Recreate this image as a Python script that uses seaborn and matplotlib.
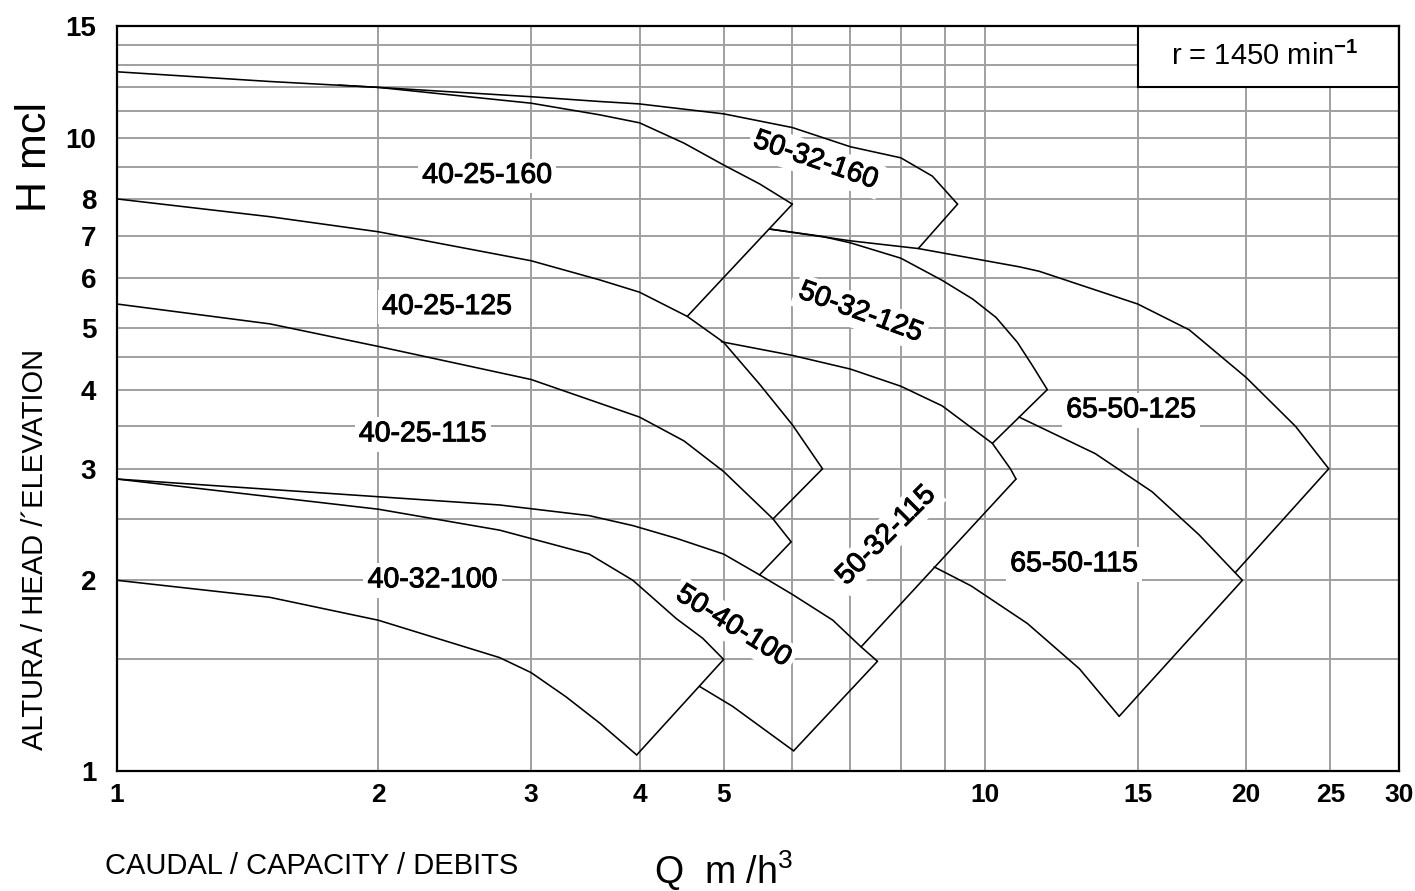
import matplotlib
matplotlib.use("Agg")
import matplotlib.pyplot as plt
from matplotlib.patches import Rectangle
from matplotlib.ticker import NullLocator
import matplotlib.patheffects as pe
import seaborn as sns
import pandas as pd

# ---------------- data: capacity Q (m3/h) and head H (m) ----------------
q_40_25_160 = [1.0, 1.5, 2.0, 3.0, 3.6, 4.0, 4.5, 5.0, 5.5, 6.0]
h_40_25_160 = [12.7, 12.26, 12.0, 11.33, 10.86, 10.55, 9.8, 9.05, 8.45, 7.85]

q_50_32_160 = [1.8, 2.0, 3.0, 3.6, 4.0, 5.0, 6.0, 7.0, 8.0, 8.7, 9.3]
h_50_32_160 = [12.1, 12.0, 11.6, 11.4, 11.3, 10.9, 10.37, 9.67, 9.29, 8.69, 7.85]

q_40_25_125 = [1.0, 1.5, 2.0, 3.0, 3.6, 4.0, 4.54, 5.0, 5.5, 6.0, 6.5]
h_40_25_125 = [8.0, 7.5, 7.1, 6.39, 5.96, 5.7, 5.22, 4.75, 4.08, 3.52, 3.0]

q_50_32_125 = [5.65, 6.5, 7.0, 8.0, 8.93, 9.68, 10.3, 10.9, 11.35, 11.8]
h_50_32_125 = [7.17, 6.98, 6.82, 6.45, 5.95, 5.56, 5.2, 4.75, 4.36, 4.0]

q_65_50_125 = [5.65, 7.0, 8.38, 10.96, 11.55, 15.0, 17.2, 20.0, 22.8, 24.9]
h_65_50_125 = [7.17, 6.87, 6.68, 6.25, 6.15, 5.46, 4.97, 4.18, 3.5, 3.0]

q_40_25_115 = [1.0, 1.5, 2.0, 3.0, 4.0, 4.5, 5.0, 5.7, 5.98]
h_40_25_115 = [5.46, 5.08, 4.68, 4.15, 3.62, 3.32, 2.97, 2.5, 2.3]

q_50_32_115 = [4.97, 6.0, 7.0, 8.0, 8.93, 10.2, 10.7, 10.86]
h_50_32_115 = [4.76, 4.53, 4.31, 4.05, 3.77, 3.29, 3.0, 2.89]

q_65_50_115_top = [10.95, 13.4, 15.58, 17.65, 19.8]
h_65_50_115_top = [3.62, 3.17, 2.76, 2.36, 2.0]

q_65_50_115_bot = [8.74, 9.64, 11.19, 12.85, 14.28]
h_65_50_115_bot = [2.1, 1.96, 1.71, 1.45, 1.22]

q_50_40_100_top = [1.0, 2.0, 2.76, 3.5, 3.93, 4.41, 5.0, 5.5, 6.0, 6.68, 7.2, 7.52]
h_50_40_100_top = [2.89, 2.71, 2.63, 2.53, 2.44, 2.33, 2.2, 2.04, 1.9, 1.73, 1.57, 1.49]

q_50_40_100_bot = [4.69, 5.12, 6.02]
h_50_40_100_bot = [1.36, 1.265, 1.076]

q_40_32_100_top = [1.0, 2.0, 2.76, 3.5, 3.93, 4.41, 4.73, 5.0]
h_40_32_100_top = [2.89, 2.59, 2.4, 2.2, 2.0, 1.74, 1.62, 1.5]

q_40_32_100_bot = [1.0, 1.5, 2.0, 2.76, 3.0, 3.29, 3.6, 3.97]
h_40_32_100_bot = [2.0, 1.88, 1.73, 1.51, 1.43, 1.31, 1.19, 1.06]

# closing lines (tip of curve -> end on lower curve)
q_close_40_25_160 = [6.0, 4.54];   h_close_40_25_160 = [7.85, 5.22]
q_close_50_32_160 = [9.3, 8.38];   h_close_50_32_160 = [7.85, 6.68]
q_close_40_25_125 = [6.5, 5.7];    h_close_40_25_125 = [3.0, 2.5]
q_close_50_32_125 = [11.8, 10.2];  h_close_50_32_125 = [4.0, 3.29]
q_close_65_50_125 = [24.9, 19.45]; h_close_65_50_125 = [3.0, 2.06]
q_close_40_25_115 = [5.98, 5.5];   h_close_40_25_115 = [2.3, 2.04]
q_close_50_32_115 = [10.86, 7.2];  h_close_50_32_115 = [2.89, 1.57]
q_close_65_50_115 = [19.8, 14.28]; h_close_65_50_115 = [2.0, 1.22]
q_close_40_32_100 = [5.0, 3.97];   h_close_40_32_100 = [1.5, 1.06]
q_close_50_40_100 = [7.52, 6.02];  h_close_50_40_100 = [1.49, 1.076]

segments = {
    "40-25-160": (q_40_25_160, h_40_25_160),
    "50-32-160": (q_50_32_160, h_50_32_160),
    "40-25-125": (q_40_25_125, h_40_25_125),
    "50-32-125": (q_50_32_125, h_50_32_125),
    "65-50-125": (q_65_50_125, h_65_50_125),
    "40-25-115": (q_40_25_115, h_40_25_115),
    "50-32-115": (q_50_32_115, h_50_32_115),
    "65-50-115 top": (q_65_50_115_top, h_65_50_115_top),
    "65-50-115 bot": (q_65_50_115_bot, h_65_50_115_bot),
    "50-40-100 top": (q_50_40_100_top, h_50_40_100_top),
    "50-40-100 bot": (q_50_40_100_bot, h_50_40_100_bot),
    "40-32-100 top": (q_40_32_100_top, h_40_32_100_top),
    "40-32-100 bot": (q_40_32_100_bot, h_40_32_100_bot),
    "c 40-25-160": (q_close_40_25_160, h_close_40_25_160),
    "c 50-32-160": (q_close_50_32_160, h_close_50_32_160),
    "c 40-25-125": (q_close_40_25_125, h_close_40_25_125),
    "c 50-32-125": (q_close_50_32_125, h_close_50_32_125),
    "c 65-50-125": (q_close_65_50_125, h_close_65_50_125),
    "c 40-25-115": (q_close_40_25_115, h_close_40_25_115),
    "c 50-32-115": (q_close_50_32_115, h_close_50_32_115),
    "c 65-50-115": (q_close_65_50_115, h_close_65_50_115),
    "c 40-32-100": (q_close_40_32_100, h_close_40_32_100),
    "c 50-40-100": (q_close_50_40_100, h_close_50_40_100),
}

x_ticks = [1, 2, 3, 4, 5, 10, 15, 20, 25, 30]
x_tick_labels = ["1", "2", "3", "4", "5", "10", "15", "20", "25", "30"]
y_ticks = [1, 2, 3, 4, 5, 6, 7, 8, 10, 15]
y_tick_labels = ["1", "2", "3", "4", "5", "6", "7", "8", "10", "15"]
x_grid = [2, 3, 4, 5, 6, 7, 8, 9, 10, 15, 20, 25]
y_grid = [1.5, 2, 2.5, 3, 3.5, 4, 4.5, 5, 6, 7, 8, 9, 10, 11, 12, 13, 14]

# label text, position (Q, H), rotation
labels = [
    ("40-25-160", 2.67, 8.7, 0),
    ("40-25-125", 2.40, 5.4, 0),
    ("40-25-115", 2.25, 3.40, 0),
    ("40-32-100", 2.31, 2.0, 0),
    ("50-32-160", 6.38, 9.19, -19),
    ("50-32-125", 7.19, 5.29, -20),
    ("50-40-100", 5.13, 1.69, -32),
    ("50-32-115", 7.70, 2.35, 45),
    ("65-50-125", 14.74, 3.71, 0),
    ("65-50-115", 12.67, 2.12, 0),
]

# ---------------- style ----------------
sns.set_style("white")
plt.rcParams['font.family'] = ['Liberation Sans', 'DejaVu Sans']
plt.rcParams['mathtext.fontset'] = 'custom'
plt.rcParams['mathtext.rm'] = 'Liberation Sans'
plt.rcParams['mathtext.it'] = 'Liberation Sans'
plt.rcParams['mathtext.bf'] = 'Liberation Sans:bold'
plt.rcParams.update({'text.color': 'black', 'xtick.color': 'black',
                     'ytick.color': 'black', 'axes.labelcolor': 'black'})

W, H = 1415, 891
fig = plt.figure(figsize=(W / 100, H / 100), dpi=100)
ax = fig.add_axes([117 / W, 1 - 771 / H, (1399 - 117) / W, (771 - 26) / H])
ax.set_xscale('log')
ax.set_yscale('log')

grid_color = '#a0a0a0'
for v in x_grid:
    ax.axvline(v, color=grid_color, lw=1.4, zorder=1)
for v in y_grid:
    ax.axhline(v, color=grid_color, lw=1.4, zorder=1)

rows = []
for name, (qs, hs) in segments.items():
    for i, (a, b) in enumerate(zip(qs, hs)):
        rows.append((name, i, a, b))
df = pd.DataFrame(rows, columns=['seg', 'order', 'q', 'h'])
sns.lineplot(data=df, x='q', y='h', units='seg', estimator=None, sort=False,
             color='black', lw=1.15, ax=ax, legend=False, zorder=3)

for txt, qx, hy, rot in labels:
    t = ax.text(qx, hy, txt, fontsize=20.5, rotation=rot, ha='center', va='center',
                rotation_mode='anchor', zorder=2.5, color='black',
                bbox=dict(facecolor='white', edgecolor='none', pad=3))
    t.set_path_effects([pe.withStroke(linewidth=0.7, foreground='black')])

# speed box
ax.add_patch(Rectangle((15, 12), 15, 3, facecolor='white', edgecolor='black',
                       lw=1.5, zorder=4))
ax.text(21.0, 13.45, r"r = 1450 min$^{\mathbf{-1}}$", fontsize=21, ha='center',
        va='center', zorder=5, color='black')

ax.set_xlim(1, 30)
ax.set_ylim(1, 15)
ax.xaxis.set_minor_locator(NullLocator())
ax.yaxis.set_minor_locator(NullLocator())
ax.set_xticks(x_ticks)
ax.set_xticklabels(x_tick_labels, fontsize=19, fontweight='bold')
ax.set_yticks(y_ticks)
ax.set_yticklabels(y_tick_labels, fontsize=20, fontweight='bold')
ax.tick_params(axis='x', length=0, pad=9, colors='black')
ax.tick_params(axis='y', length=0, pad=15, colors='black')
ax.set_xlabel("")
ax.set_ylabel("")
for s in ax.spines.values():
    s.set_color('black')
    s.set_linewidth(1.6)
    s.set_zorder(6)

fig.text(35 / W, 1 - 157 / H, "H mcl", rotation=90, fontsize=31,
         ha='center', va='center', color='black')
fig.text(35 / W, 1 - 549 / H, "ALTURA / HEAD /´ELEVATION", rotation=90,
         fontsize=21, ha='center', va='center', color='black')
fig.text(105 / W, 1 - 866 / H, "CAUDAL / CAPACITY / DEBITS", fontsize=21,
         ha='left', va='center', color='black')
fig.text(654 / W, 1 - 871 / H, r"Q  m /h$^{3}$", fontsize=27,
         ha='left', va='center', color='black')

fig.savefig("out.png", dpi=100)
